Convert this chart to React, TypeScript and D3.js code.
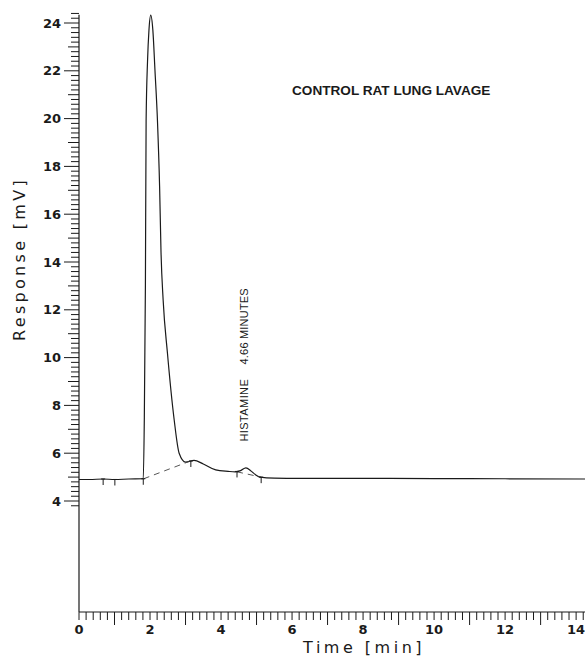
import React from 'react';
import * as d3 from 'd3';

// chromatogram trace
const times = [0, 0.3, 0.68, 1.0, 1.4, 1.81, 1.84, 1.87, 1.89, 1.93, 1.97, 2.02, 2.08, 2.14, 2.21, 2.27, 2.31, 2.37, 2.49, 2.68, 2.82, 3.0, 3.24, 3.5, 3.85, 4.2, 4.4, 4.55, 4.7, 4.85, 4.98, 5.1, 5.5, 6.2, 8, 10, 12, 14.3];
const response = [4.9, 4.9, 4.92, 4.9, 4.92, 4.93, 7.5, 13.0, 19.9, 22.4, 23.7, 24.33, 23.7, 22.0, 19.9, 17.15, 14.4, 12.4, 10.2, 7.4, 6.0, 5.63, 5.7, 5.55, 5.3, 5.24, 5.22, 5.27, 5.39, 5.25, 5.09, 5.0, 4.96, 4.95, 4.95, 4.94, 4.93, 4.92];

// integration marks and dashed baselines
const markTimes = [0.68, 1.01, 1.81, 3.15, 4.45, 5.13];
const dropLines = [
  [[1.82, 4.93], [3.15, 5.68]],
  [[4.45, 5.22], [5.13, 5.0]],
];

const xLabels = [0, 2, 4, 6, 8, 10, 12, 14];
const yLabels = [4, 6, 8, 10, 12, 14, 16, 18, 20, 22, 24];

const title = 'CONTROL RAT LUNG LAVAGE';
const peakName = 'HISTAMINE';
const peakTime = '4.66 MINUTES';

export default function App() {
  const width = 585, height = 658;
  const x = d3.scaleLinear().domain([0, 14.25]).range([79, 585]);
  const y = d3.scaleLinear().domain([4, 24]).range([501, 23]);
  const axisY = 612;
  const ink = '#1a1a1a';

  const pts = times.map((t, i) => [t, response[i]] as [number, number]);
  const line = d3.line<[number, number]>().x(d => x(d[0])).y(d => y(d[1])).curve(d3.curveMonotoneX);
  const valueAt = d3.scaleLinear().domain(times).range(response);

  const yTicks = d3.range(38, 245, 2).map(v => v / 10);
  const xTicks = d3.range(0, 143, 2).map(v => v / 10);

  const sans = 'DejaVu Sans, sans-serif';

  return (
    <svg width={width} height={height} style={{ position: 'absolute', left: 0, top: 0, background: '#fff' }}>
      {/* y axis */}
      <line x1={x(0)} x2={x(0)} y1={y(24.35)} y2={axisY} stroke={ink} strokeWidth={1.2} />
      {yTicks.map(v => {
        const r = Math.round(v * 10);
        const len = r % 20 === 0 ? 15 : r % 10 === 0 ? 11 : 8;
        return <line key={'yt' + r} x1={x(0) - len} x2={x(0)} y1={y(v)} y2={y(v)} stroke={ink} strokeWidth={1} />;
      })}
      {yLabels.map(v => (
        <text key={'yl' + v} x={x(0) - 18} y={y(v)} dy="0.35em" textAnchor="end"
          fontFamily={sans} fontWeight="bold" fontSize={13} fill={ink}>{v}</text>
      ))}
      <text transform={`translate(25,${(y(24) + y(4)) / 2 - 3}) rotate(-90)`} textAnchor="middle"
        fontFamily={sans} fontSize={16} letterSpacing={3.3} fill={ink}>Response [mV]</text>

      {/* x axis */}
      <line x1={x(0)} x2={width} y1={axisY} y2={axisY} stroke={ink} strokeWidth={1.2} />
      {xTicks.map(v => {
        const r = Math.round(v * 10);
        const len = r % 20 === 0 ? 8 : r % 10 === 0 ? 13 : 8;
        return <line key={'xt' + r} x1={x(v)} x2={x(v)} y1={axisY} y2={axisY + len} stroke={ink} strokeWidth={1} />;
      })}
      {xLabels.map(v => (
        <text key={'xl' + v} x={x(v)} y={634} textAnchor="middle"
          fontFamily={sans} fontWeight="bold" fontSize={13} fill={ink}>{v}</text>
      ))}
      <text x={(x(6) + x(10)) / 2 + 1} y={653} textAnchor="middle"
        fontFamily={sans} fontSize={16} letterSpacing={3.5} fill={ink}>Time [min]</text>

      {/* trace */}
      <path d={line(pts) || ''} fill="none" stroke={ink} strokeWidth={1.2} />
      {dropLines.map((seg, i) => (
        <line key={'dl' + i} x1={x(seg[0][0])} y1={y(seg[0][1])} x2={x(seg[1][0])} y2={y(seg[1][1])}
          stroke="#444" strokeWidth={0.9} strokeDasharray="6 5" />
      ))}
      {markTimes.map(t => {
        const py = y(valueAt(t));
        return (
          <g key={'m' + t}>
            <line x1={x(t)} x2={x(t)} y1={py} y2={py + 6} stroke={ink} strokeWidth={1} />
            <line x1={x(t) - 2} x2={x(t) + 2} y1={py} y2={py} stroke={ink} strokeWidth={1} />
          </g>
        );
      })}

      {/* annotations */}
      <text x={292} y={95} fontFamily="Liberation Sans, Arial, sans-serif" fontWeight="bold" fontSize={13.6} fill={ink}>{title}</text>
      <text transform={`translate(${x(4.66) + 4},${y(4.9) - 38}) rotate(-90)`}
        fontFamily="Liberation Sans, Arial, sans-serif" fontSize={11} letterSpacing={0.4} fill={ink}>{peakName}</text>
      <text transform={`translate(${x(4.66) + 4},${y(4.9) - 115}) rotate(-90)`}
        fontFamily="Liberation Sans, Arial, sans-serif" fontSize={11} letterSpacing={0.2} fill={ink}>{peakTime}</text>
    </svg>
  );
}
